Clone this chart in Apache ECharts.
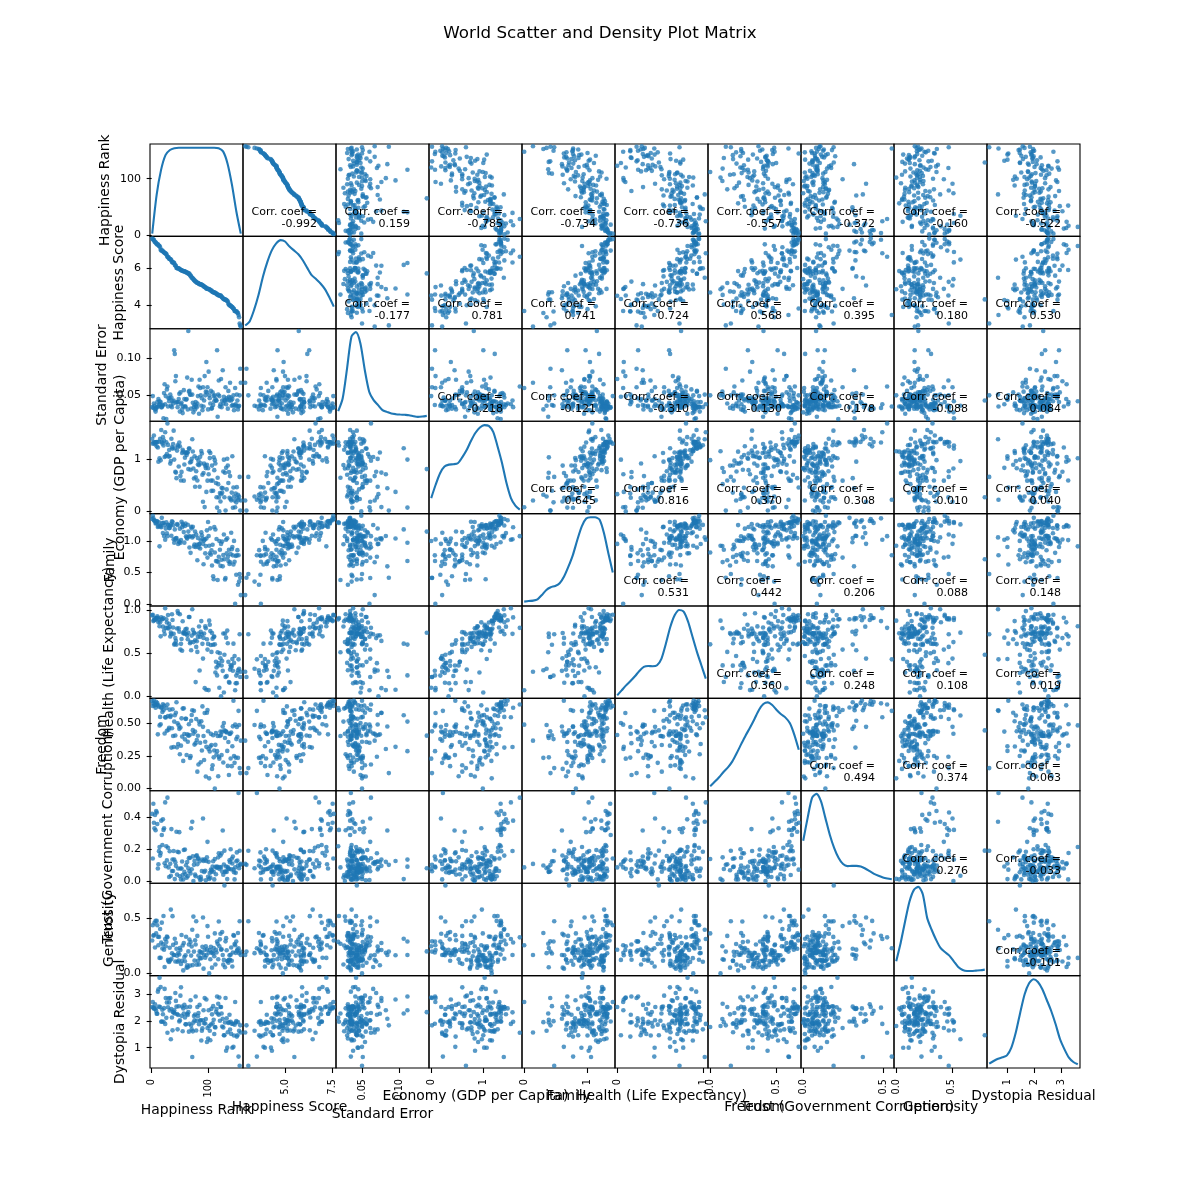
<!DOCTYPE html>
<html><head><meta charset="utf-8">
<style>html,body{margin:0;padding:0;background:#fff}#c{width:1200px;height:1200px}</style>
<script src="https://cdn.jsdelivr.net/npm/echarts@6/dist/echarts.min.js"></script>
</head><body><div id="c"></div>
<script>
const names=["Happiness Rank","Happiness Score","Standard Error","Economy (GDP per Capita)","Family","Health (Life Expectancy)","Freedom","Trust (Government Corruption)","Generosity","Dystopia Residual"];
const rank=[1,2,3,4,5,6,7,8,9,10,11,12,13,14,15,16,17,18,19,20,21,22,23,24,25,26,27,28,29,30,31,32,33,34,35,36,37,38,39,40,41,42,43,44,45,46,47,48,49,50,51,52,53,54,55,56,57,58,59,60,61,62,63,64,65,66,67,68,69,70,71,72,73,74,75,76,77,78,79,80,81,82,83,84,85,86,87,88,89,90,91,92,93,94,95,96,97,98,99,100,101,102,103,104,105,106,107,108,109,110,111,112,113,114,115,116,117,118,119,120,121,122,123,124,125,126,127,128,129,130,131,132,133,134,135,136,137,138,139,140,141,142,143,144,145,146,147,148,149,150,151,152,153,154,155,156,157,158];
const score=[7.587,7.561,7.527,7.522,7.427,7.406,7.378,7.364,7.286,7.284,7.278,7.226,7.2,7.187,7.119,6.983,6.946,6.94,6.937,6.901,6.867,6.853,6.81,6.798,6.786,6.75,6.67,6.611,6.575,6.574,6.505,6.485,6.477,6.455,6.411,6.329,6.302,6.298,6.295,6.269,6.168,6.13,6.123,6.003,5.995,5.987,5.984,5.975,5.96,5.948,5.89,5.889,5.878,5.855,5.848,5.833,5.828,5.824,5.813,5.791,5.77,5.759,5.754,5.716,5.709,5.695,5.689,5.605,5.589,5.548,5.477,5.474,5.429,5.399,5.36,5.332,5.286,5.268,5.253,5.212,5.194,5.192,5.192,5.14,5.129,5.124,5.123,5.102,5.098,5.073,5.057,5.013,5.007,4.971,4.959,4.949,4.898,4.885,4.876,4.874,4.867,4.857,4.839,4.8,4.788,4.786,4.739,4.715,4.694,4.686,4.681,4.677,4.642,4.633,4.61,4.571,4.565,4.55,4.518,4.517,4.514,4.512,4.507,4.436,4.419,4.369,4.35,4.332,4.307,4.297,4.292,4.271,4.252,4.218,4.194,4.077,4.033,3.995,3.989,3.956,3.931,3.904,3.896,3.845,3.819,3.781,3.681,3.678,3.667,3.656,3.655,3.587,3.575,3.465,3.34,3.006,2.905,2.839];
const stdErr=[.034,.049,.033,.039,.036,.031,.028,.032,.034,.041,.035,.045,.037,.042,.038,.041,.034,.034,.036,.037,.019,.053,.065,.038,.049,.018,.058,.062,.035,.046,.042,.046,.051,.036,.047,.034,.042,.039,.043,.111,.106,.069,.076,.04,.041,.034,.041,.045,.052,.028,.054,.038,.04,.031,.026,.035,.057,.045,.035,.035,.044,.045,.074,.031,.137,.055,.056,.051,.051,.032,.071,.051,.04,.027,.034,.037,.031,.041,.036,.034,.039,.049,.062,.025,.071,.06,.05,.036,.046,.03,.061,.035,.043,.076,.05,.055,.095,.054,.061,.031,.082,.05,.046,.039,.056,.032,.033,.054,.037,.049,.042,.05,.045,.043,.043,.111,.021,.051,.07,.049,.035,.038,.072,.034,.043,.084,.039,.048,.043,.043,.061,.038,.046,.044,.032,.056,.048,.043,.067,.047,.043,.036,.045,.037,.05,.03,.036,.06,.038,.036,.051,.043,.031,.035,.036,.05,.086,.067];
const economy=[1.397,1.302,1.325,1.459,1.326,1.29,1.329,1.332,1.25,1.334,1.229,.956,1.337,1.02,1.395,.981,1.564,1.336,1.307,1.427,1.267,1.36,1.044,1.521,1.064,1.327,1.101,1.691,1.278,1.053,1.179,1.063,.919,.967,1.396,1.23,1.207,1.295,1.552,.995,1.213,.762,.746,.639,1.168,1.27,1.244,.864,1.324,1.251,.682,.593,.759,1.122,1.185,1.148,.591,.9,1.033,1.125,1.129,1.085,1.132,1.131,.813,1.208,1.207,.939,.801,.956,1.009,1.386,1.151,.824,.632,1.061,.474,.655,.771,1.024,.593,.901,.975,.89,.474,1.048,.922,1.159,1.112,.704,.186,.739,.918,.083,.879,.832,.375,.896,.591,.829,.715,1.155,1.024,1.123,.592,.394,.88,.592,.397,1.039,.793,.985,.921,.546,.271,.073,.647,.524,.269,0,.354,.191,.331,.453,.36,.446,.768,.994,.271,.742,.016,.837,.423,1.011,.882,.546,.757,.262,.678,.238,.212,.361,1.06,.069,.46,.286,.209,.079,.342,.174,.466,.258,.32,.223,.287,.663,.015,.209];
const family=[1.35,1.402,1.361,1.331,1.323,1.318,1.28,1.289,1.319,1.309,1.224,1.238,1.297,.915,1.247,1.233,1.22,1.369,1.286,1.126,1.289,1.081,1.255,1.02,1.198,1.299,1.124,1.078,1.26,1.249,1.206,1.208,1.242,1.265,1.084,1.314,1.304,1.251,1.028,.972,1.185,1.025,1.044,1.047,1.269,1.257,.952,.998,.98,1.197,.971,1.015,1.307,1.221,1.274,1.254,1.142,.974,1.239,1.278,1.077,1.055,1.039,1.259,1.15,1.072,.896,1.077,.812,1.227,1.2,1.058,1.228,1.078,.914,.944,1.151,.905,1.105,.938,.695,1.05,.901,.948,.951,.882,1.009,1.138,1.092,1.038,.955,.63,1.007,1.026,.804,.919,1.041,1.17,.736,1.303,1.079,.925,.806,1.202,.784,.852,.609,.941,.439,.39,1.224,.818,1.184,.68,1.033,.682,.38,.664,.749,1.001,.862,.605,.954,.702,.991,.597,.776,1.104,.709,.388,.412,1.02,.804,1.043,.747,.682,.86,.634,.662,.791,1.133,.87,.905,.772,.627,1.002,.669,0,.761,.464,.772,.855,.303,.774,.354,.475,.416,.139];
const health=[.941,.948,.875,.885,.906,.889,.893,.911,.908,.932,.914,.86,.891,.814,.861,.697,.918,.896,.896,.81,.91,.763,.721,1.025,.796,.895,.858,.796,.946,.788,.844,.81,.695,.74,.723,.955,.888,.8,.726,.601,.612,.677,.644,.601,.788,.991,.966,.79,.75,.955,.543,.61,.666,.53,.873,.732,.746,.733,.731,.78,.729,.786,.709,.664,.739,.922,.923,.617,.631,.536,.706,1.013,.774,.63,.741,.731,.652,.164,.574,.64,.516,.691,.73,.812,.299,.693,.749,.875,.72,.61,.438,.679,.731,.094,.813,.791,.076,.664,.543,.609,.071,.88,.832,.758,.596,.516,.737,.67,.6,.691,.696,.604,.276,.401,.334,.242,.512,.359,.385,.099,.5,.441,0,.357,.41,.295,.73,.043,.482,.731,.224,.682,.236,.764,.617,.4,.166,.157,.31,.361,.337,.356,.433,.296,.612,.388,.469,.069,.151,.24,.152,.271,.303,.429,.319,.721,.224,.284];
const freedom=[.666,.629,.649,.67,.633,.642,.616,.66,.639,.651,.413,.634,.624,.481,.546,.49,.615,.618,.584,.641,.596,.632,.42,.543,.542,.614,.441,.64,.553,.449,.463,.601,.546,.557,.312,.46,.604,.4,.317,.51,.559,.404,.577,.658,.314,.497,.339,.481,.455,.262,.465,.327,.535,.396,.609,.211,.611,.416,.375,.531,.532,.256,.413,.357,.403,.49,.407,.233,.247,.517,.56,.596,.445,.418,.592,.335,.434,.346,.53,.37,.129,.402,.183,.51,.488,.349,.201,.513,.29,.626,.47,.4,.218,.576,.357,.092,.318,.578,.599,.437,.301,.078,.282,.321,.417,.332,.15,.178,.406,.238,.29,0,.333,.422,.259,.285,.4,.094,.243,.228,.4,.435,.408,.255,.433,.473,.199,.499,.443,.385,.436,.434,.428,.287,.173,.355,.103,.418,.417,.229,.427,.171,.323,.474,.669,.248,.196,.487,.236,.377,.469,.394,.234,.592,.484,.156,.118,.365];
const trust=[.42,.141,.484,.365,.33,.414,.318,.438,.429,.357,.078,.105,.187,.213,.159,.175,.378,.288,.225,.386,.32,.33,.111,.492,.093,.218,.129,.522,.208,.085,.025,.186,.108,.033,.325,.063,.135,.063,.188,.134,.012,.118,.095,.308,.04,.183,.078,.18,.306,.03,.078,.01,.078,.122,.038,.01,.194,.057,.197,.042,.099,.02,.119,.03,.08,.143,.061,.146,.047,.33,.073,.371,.154,0,.101,.126,.04,.03,.157,.161,.105,.139,.142,.022,.123,.006,.026,.011,.063,.134,.391,.126,.057,.135,.064,.004,.125,.148,.245,.026,.12,.013,.05,.021,.072,.058,.067,.09,.124,.058,.01,.138,.089,.042,.083,.09,.085,.148,.174,.076,.088,.16,.085,.173,.059,.316,.039,.103,.19,.056,.061,.091,.057,.012,.087,.078,.075,.13,.118,.199,.073,.139,.11,.153,.071,.055,.01,.085,.051,.124,.179,.128,.097,.551,.08,.189,.101,.107];
const generosity=[.297,.436,.341,.347,.458,.234,.476,.362,.475,.436,.331,.255,.33,.14,.402,.141,.28,.459,.225,.264,.519,.215,.058,.311,.245,.285,.333,.326,.123,.111,.104,.232,.118,.577,.132,.182,.518,.258,.167,.166,.313,.107,.275,.223,.16,.106,.185,.117,.171,.229,.212,.086,.347,.115,.253,.027,.274,.148,.11,.164,.332,.051,.074,.055,.199,.261,.306,.07,.283,.161,.243,.395,.075,.514,.197,.116,.3,.262,.472,.079,.339,.115,.161,.081,.199,.137,.194,.138,.186,.24,.506,.043,.168,.212,.142,.245,.164,.217,.428,.331,.187,0,.212,.128,.24,.187,.052,.196,.18,.229,.155,.362,.08,.213,.189,.289,.268,.128,.469,.246,.308,.358,.214,.219,.375,.167,.079,.122,.796,.055,.29,.319,.209,.112,.113,.097,.124,.164,.124,.169,.234,.114,.063,.189,.346,.34,.266,.254,.186,.288,.202,.216,.365,.227,.183,.472,.197,.167];
const dystopia=[2.517,2.702,2.492,2.465,2.452,2.62,2.466,2.372,2.264,2.266,3.087,3.175,2.532,3.603,2.51,3.261,1.97,1.977,2.414,2.246,1.966,2.474,3.19,1.888,2.848,2.112,2.685,1.558,2.507,2.836,2.685,2.384,2.848,1.316,2.44,2.126,1.647,2.321,2.318,2.397,2.274,3.035,2.743,2.529,2.257,1.684,2.22,2.545,1.975,2.024,2.938,3.248,2.187,2.536,1.616,2.465,2.271,2.596,2.129,1.87,1.876,2.506,2.264,2.222,2.325,1.599,1.89,2.522,2.766,1.829,1.683,.654,1.61,1.936,2.183,2.018,2.235,2.909,1.643,2,2.519,2.175,2.294,1.877,2.595,2.013,2.021,1.268,1.635,1.721,2.022,2.396,1.909,2.847,1.9,2.067,2.798,1.215,1.732,1.346,2.393,1.807,1.633,1.277,1.867,2.447,2.243,1.908,2.548,2.041,1.513,1.771,1.757,2.329,2.441,2.909,2.274,2.635,2.23,2.866,2.003,2.514,2.515,2.277,1.792,2.079,1.758,1.467,1.463,1.939,2.852,.887,2.094,1.003,1.575,1.92,1.947,2.229,1.681,1.97,1.516,1.894,1.001,1.892,1.034,1.457,1.859,2.702,1.941,1.99,1.414,1.466,1.952,.671,1.633,.328,1.833,1.567];
const columns=[rank,score,stdErr,economy,family,health,freedom,trust,generosity,dystopia];

const corrRows=[
["-0.992","0.159","-0.785","-0.734","-0.736","-0.557","-0.372","-0.160","-0.522"],
["-0.177","0.781","0.741","0.724","0.568","0.395","0.180","0.530"],
["-0.218","-0.121","-0.310","-0.130","-0.178","-0.088","0.084"],
["0.645","0.816","0.370","0.308","-0.010","0.040"],
["0.531","0.442","0.206","0.088","0.148"],
["0.360","0.248","0.108","0.019"],
["0.494","0.374","0.063"],
["0.276","-0.033"],
["-0.101"]];

const xTickLabels=[["0","100"],["5.0","7.5"],["0.05","0.10"],["0","1"],["0","1"],["0","1"],["0.0","0.5"],["0.0","0.5"],["0.0","0.5"],["1","2","3"]];
const yTickLabels=[["0","100"],["4","6"],["0.05","0.10"],["0","1"],["0.0","0.5","1.0"],["0.0","0.5","1.0"],["0.00","0.25","0.50"],["0.0","0.2","0.4"],["0.0","0.5"],["1","2","3"]];

const densityRank=[.03,.45,.72,.88,.935,.955,.96,.96,.96,.96,.96,.96,.96,.96,.96,.955,.92,.79,.56,.27,.03];
const densityScore=[.036,.08,.204,.366,.563,.724,.849,.925,.96,.945,.89,.849,.806,.742,.659,.581,.538,.491,.43,.341,.24];
const densityStdErr=[.109,.246,.572,.917,.964,.844,.554,.319,.228,.174,.12,.101,.083,.076,.072,.069,.065,.054,.047,.051,.058];
const densityEconomy=[.168,.312,.437,.509,.53,.534,.545,.609,.688,.789,.875,.932,.957,.95,.885,.724,.545,.33,.168,.086,.043];
const densityFamily=[.047,.054,.058,.072,.12,.174,.203,.217,.246,.319,.428,.554,.717,.862,.946,.96,.96,.935,.79,.572,.362];
const densityHealth=[.033,.087,.141,.188,.239,.297,.341,.351,.348,.359,.431,.594,.775,.902,.957,.938,.83,.667,.504,.359,.214];
const densityFreedom=[.05,.097,.147,.204,.254,.319,.409,.505,.599,.685,.778,.875,.939,.957,.928,.875,.828,.792,.731,.606,.444];
const densityTrust=[.46,.707,.924,.967,.888,.707,.525,.38,.272,.207,.185,.188,.188,.181,.159,.13,.101,.08,.062,.051,.043];
const densityGenerosity=[.155,.353,.586,.802,.928,.96,.881,.622,.496,.388,.299,.255,.216,.155,.094,.061,.05,.05,.054,.058,.065];
const densityDystopia=[.047,.076,.101,.116,.137,.22,.383,.599,.798,.917,.96,.931,.852,.736,.617,.473,.311,.202,.112,.065,.04];
const densities=[densityRank,densityScore,densityStdErr,densityEconomy,densityFamily,densityHealth,densityFreedom,densityTrust,densityGenerosity,densityDystopia];

// layout (not data)
const L=150,T=144,W=93,H=92.4,N=10;
const yNameGap=[45,31,48,30,40,41,48,42,41,30];
const xNameGap=[42,39,46,28,28,28,39,39,39,28];
const font='DejaVu Sans', blue='#1f77b4';

const ranges=columns.map(c=>{const a=Math.min(...c),b=Math.max(...c),p=(b-a)*.025;return [a-p,b+p,a,b];});
const grids=[],xAxes=[],yAxes=[],series=[],graphics=[];
for(let r=0;r<N;r++)for(let c=0;c<N;c++){
  const i=grids.length;
  grids.push({show:true,left:L+c*W,top:T+r*H,width:W,height:H,borderColor:'#000',borderWidth:1.1,backgroundColor:'transparent'});
  const bottom=r===N-1,leftCol=c===0;
  const xv=xTickLabels[c].map(Number),yv=yTickLabels[r].map(Number);
  xAxes.push({type:'value',gridIndex:i,min:ranges[c][0],max:ranges[c][1],position:'bottom',splitLine:{show:false},
    axisLine:{show:false},
    axisTick:{show:bottom,length:5,customValues:xv,lineStyle:{color:'#000',width:1.1}},
    axisLabel:{show:bottom,customValues:xv,rotate:90,margin:11,fontSize:9.7,color:'#000',fontFamily:font,
      formatter:v=>xTickLabels[c].find(l=>Number(l)===v)},
    name:bottom?names[c]:'',nameLocation:'middle',nameGap:xNameGap[c],
    nameTextStyle:{fontSize:13.9,color:'#000',fontFamily:font,verticalAlign:'middle'}});
  yAxes.push({type:'value',gridIndex:i,min:ranges[r][0],max:ranges[r][1],position:'left',splitLine:{show:false},
    axisLine:{show:false},
    axisTick:{show:leftCol,length:5,customValues:yv,lineStyle:{color:'#000',width:1.1}},
    axisLabel:{show:leftCol,customValues:yv,margin:9,fontSize:11,color:'#000',fontFamily:font,
      formatter:v=>yTickLabels[r].find(l=>Number(l)===v)},
    name:leftCol?names[r]:'',nameLocation:'middle',nameGap:yNameGap[r],nameRotate:90,
    nameTextStyle:{fontSize:13.9,color:'#000',fontFamily:font,verticalAlign:'middle'}});
  if(r===c){
    const [lo,hi,a,b]=ranges[r],d=densities[r],n=d.length-1;
    series.push({type:'line',xAxisIndex:i,yAxisIndex:i,smooth:.25,showSymbol:false,silent:true,
      lineStyle:{color:blue,width:2.1},
      data:d.map((h,k)=>[a+(b-a)*k/n,lo+h*(hi-lo)])});
  }else{
    series.push({type:'scatter',xAxisIndex:i,yAxisIndex:i,symbolSize:4.6,silent:true,
      itemStyle:{color:blue,opacity:.75,borderWidth:0},
      data:columns[c].map((v,k)=>[v,columns[r][k]])});
  }
  if(c>r){
    graphics.push({type:'text',x:L+c*W+74,y:T+r*H+62,z:100,silent:true,
      style:{text:'Corr. coef =\n'+corrRows[r][c-r-1],fill:'#000',font:'11px "DejaVu Sans"',textAlign:'right',textVerticalAlign:'top',lineHeight:12}});
  }
}
const chart=echarts.init(document.getElementById('c'),null,{renderer:'canvas',width:1200,height:1200});
chart.setOption({animation:false,backgroundColor:'#fff',textStyle:{fontFamily:font},
  title:{text:'World Scatter and Density Plot Matrix',left:'center',top:20,textStyle:{fontSize:16.7,fontWeight:'normal',color:'#000',fontFamily:font}},
  grid:grids,xAxis:xAxes,yAxis:yAxes,series:series,graphic:graphics});
</script></body></html>
